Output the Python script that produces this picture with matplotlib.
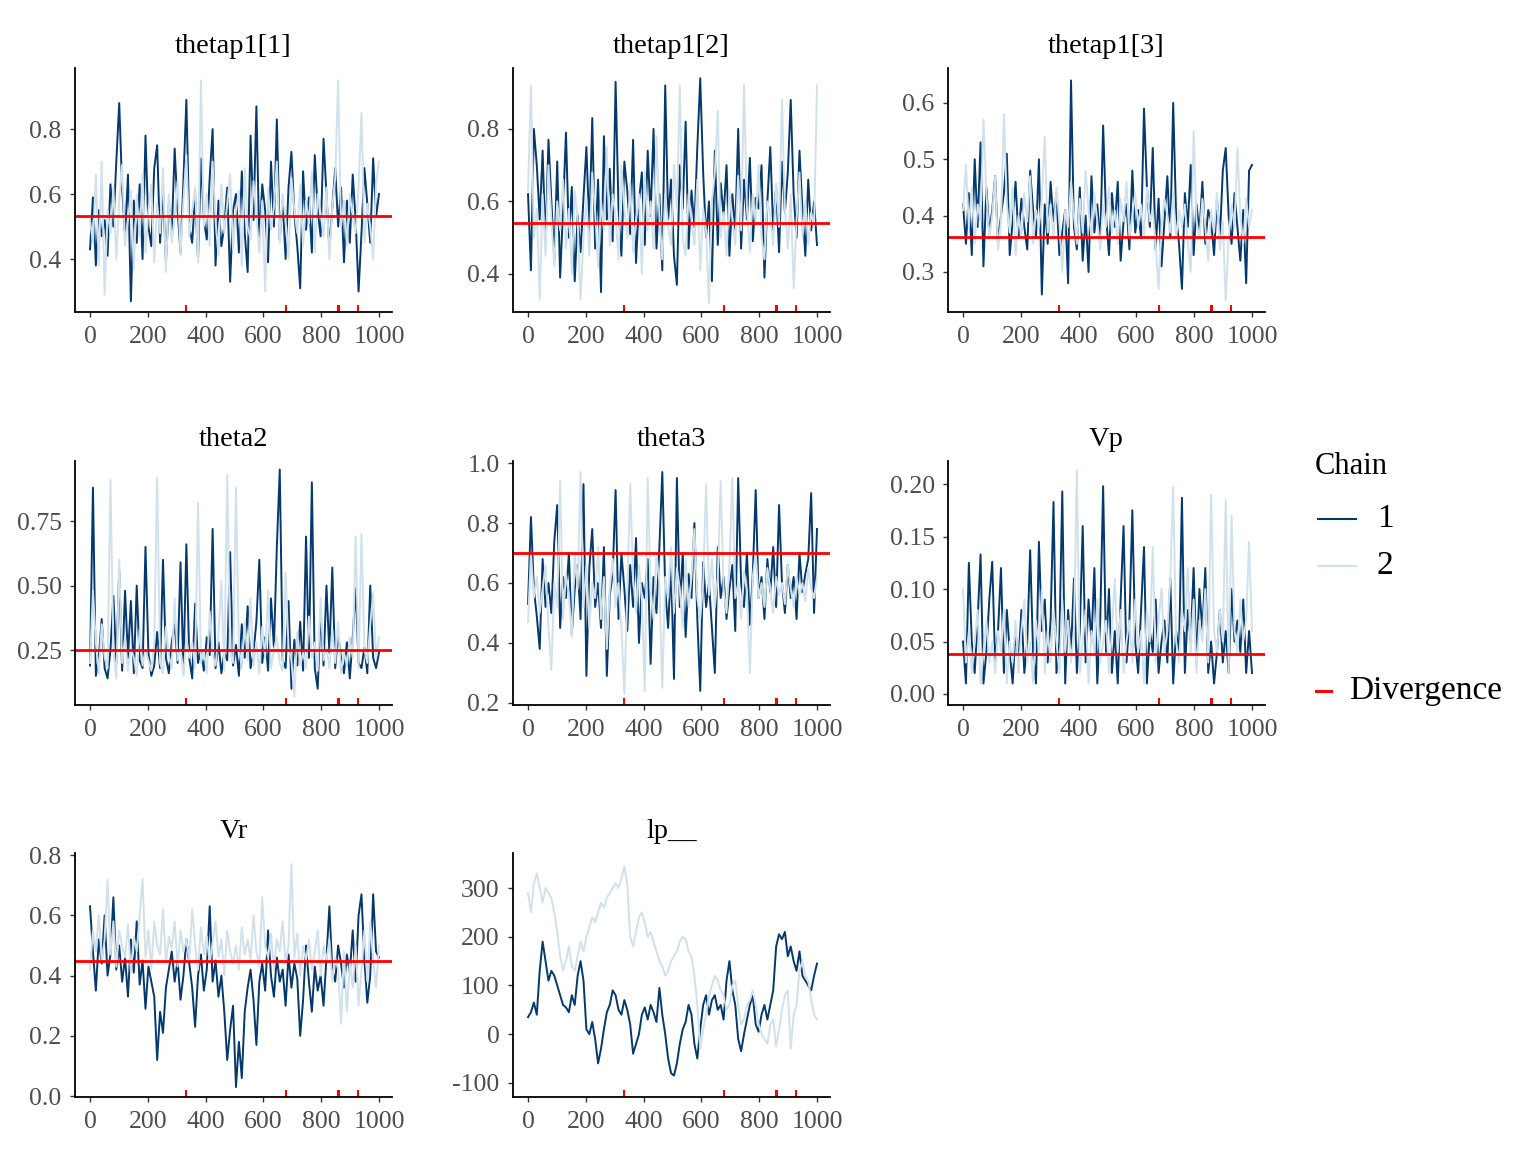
import numpy as np
import matplotlib
matplotlib.use("Agg")
import matplotlib.pyplot as plt
from matplotlib.lines import Line2D
from matplotlib.ticker import FixedLocator, FixedFormatter

plt.rcParams["font.family"] = ["Liberation Serif", "DejaVu Serif"]
plt.rcParams["axes.unicode_minus"] = False

# ---- data (estimated from the reference trace plot) ----
params = ["thetap1[1]", "thetap1[2]", "thetap1[3]", "theta2", "theta3", "Vp", "Vr", "lp__"]

thetap1_1_c1 = [0.43,0.59,0.38,0.55,0.47,0.52,0.41,0.63,0.50,0.70,0.88,0.62,0.47,0.66,0.27,0.58,0.45,0.63,0.40,0.78,
                0.50,0.44,0.68,0.75,0.45,0.62,0.39,0.57,0.48,0.74,0.55,0.42,0.64,0.89,0.50,0.45,0.60,0.40,0.71,0.52,
                0.46,0.65,0.80,0.38,0.58,0.44,0.50,0.62,0.33,0.55,0.60,0.42,0.67,0.48,0.36,0.78,0.52,0.87,0.45,0.63,
                0.55,0.39,0.70,0.50,0.83,0.46,0.58,0.40,0.62,0.73,0.54,0.44,0.31,0.67,0.49,0.59,0.42,0.72,0.55,0.47,
                0.77,0.60,0.43,0.56,0.68,0.50,0.62,0.39,0.58,0.45,0.66,0.52,0.30,0.48,0.68,0.57,0.45,0.71,0.53,0.60]
thetap1_1_c2 = [0.52,0.45,0.66,0.38,0.70,0.29,0.55,0.48,0.62,0.40,0.58,0.69,0.44,0.52,0.61,0.37,0.60,0.47,0.66,0.42,
                0.55,0.63,0.39,0.57,0.48,0.68,0.36,0.60,0.45,0.53,0.64,0.41,0.58,0.72,0.47,0.55,0.62,0.39,0.95,0.50,
                0.60,0.44,0.70,0.52,0.41,0.63,0.48,0.57,0.66,0.43,0.55,0.61,0.38,0.68,0.50,0.46,0.64,0.53,0.42,0.58,
                0.30,0.62,0.49,0.56,0.70,0.45,0.60,0.52,0.40,0.65,0.55,0.48,0.63,0.44,0.58,0.51,0.67,0.42,0.60,0.54,
                0.47,0.62,0.40,0.56,0.65,0.95,0.50,0.58,0.44,0.60,0.53,0.48,0.62,0.85,0.45,0.57,0.50,0.40,0.63,0.70]

thetap1_2_c1 = [0.62,0.41,0.80,0.70,0.55,0.74,0.48,0.77,0.60,0.44,0.71,0.39,0.58,0.79,0.50,0.64,0.38,0.56,0.46,0.61,
                0.75,0.52,0.83,0.47,0.66,0.35,0.78,0.55,0.69,0.49,0.93,0.58,0.45,0.71,0.63,0.51,0.77,0.43,0.60,0.68,
                0.48,0.74,0.56,0.80,0.47,0.62,0.41,0.92,0.55,0.66,0.45,0.37,0.70,0.58,0.82,0.47,0.63,0.53,0.75,0.94,
                0.68,0.50,0.60,0.38,0.74,0.48,0.65,0.56,0.70,0.45,0.62,0.52,0.80,0.47,0.66,0.55,0.72,0.49,0.61,0.58,
                0.70,0.39,0.60,0.75,0.52,0.64,0.46,0.71,0.57,0.68,0.88,0.62,0.50,0.74,0.58,0.45,0.66,0.52,0.60,0.48]
thetap1_2_c2 = [0.63,0.92,0.50,0.58,0.33,0.62,0.45,0.70,0.55,0.42,0.60,0.52,0.66,0.47,0.58,0.40,0.63,0.55,0.33,0.50,
                0.61,0.45,0.68,0.57,0.42,0.60,0.52,0.75,0.48,0.62,0.56,0.44,0.70,0.58,0.50,0.65,0.46,0.55,0.62,0.40,
                0.68,0.52,0.60,0.47,0.78,0.56,0.44,0.62,0.53,0.48,0.70,0.58,0.92,0.50,0.45,0.62,0.55,0.48,0.66,0.41,
                0.58,0.52,0.32,0.60,0.68,0.85,0.50,0.57,0.45,0.63,0.55,0.48,0.67,0.52,0.92,0.58,0.46,0.62,0.54,0.70,
                0.50,0.44,0.60,0.56,0.48,0.65,0.53,0.88,0.58,0.47,0.62,0.36,0.55,0.68,0.50,0.60,0.48,0.57,0.53,0.92]

thetap1_3_c1 = [0.42,0.35,0.44,0.33,0.50,0.38,0.53,0.31,0.45,0.37,0.41,0.47,0.35,0.40,0.44,0.51,0.33,0.39,0.46,0.36,
                0.43,0.38,0.34,0.48,0.41,0.36,0.50,0.26,0.42,0.35,0.46,0.39,0.44,0.33,0.37,0.41,0.28,0.64,0.38,0.34,
                0.45,0.32,0.40,0.30,0.47,0.37,0.42,0.35,0.56,0.40,0.33,0.44,0.38,0.46,0.32,0.39,0.42,0.34,0.48,0.37,
                0.41,0.36,0.59,0.45,0.38,0.52,0.34,0.43,0.31,0.39,0.47,0.36,0.60,0.40,0.35,0.27,0.44,0.38,0.49,0.33,
                0.42,0.37,0.46,0.35,0.41,0.39,0.33,0.43,0.36,0.48,0.52,0.40,0.35,0.44,0.38,0.32,0.41,0.28,0.48,0.49]
thetap1_3_c2 = [0.41,0.49,0.38,0.45,0.35,0.42,0.39,0.57,0.44,0.36,0.40,0.47,0.34,0.39,0.58,0.42,0.37,0.45,0.33,0.40,
                0.36,0.44,0.39,0.47,0.35,0.41,0.38,0.43,0.54,0.37,0.42,0.36,0.45,0.39,0.30,0.41,0.38,0.46,0.40,0.35,
                0.43,0.37,0.48,0.41,0.36,0.44,0.39,0.34,0.42,0.38,0.45,0.37,0.41,0.35,0.43,0.39,0.46,0.36,0.40,0.44,
                0.38,0.42,0.36,0.45,0.39,0.41,0.35,0.27,0.38,0.43,0.40,0.37,0.44,0.36,0.41,0.38,0.42,0.35,0.30,0.55,
                0.39,0.36,0.43,0.38,0.32,0.41,0.37,0.44,0.34,0.39,0.25,0.36,0.42,0.38,0.52,0.40,0.35,0.43,0.38,0.41]

theta2_c1 = [0.19,0.88,0.15,0.22,0.37,0.18,0.14,0.25,0.46,0.20,0.56,0.17,0.48,0.22,0.44,0.16,0.50,0.21,0.18,0.65,
             0.24,0.15,0.19,0.32,0.18,0.60,0.22,0.16,0.28,0.35,0.20,0.59,0.17,0.66,0.22,0.14,0.43,0.20,0.25,0.17,
             0.30,0.23,0.72,0.18,0.28,0.16,0.24,0.21,0.63,0.19,0.27,0.15,0.35,0.22,0.42,0.18,0.24,0.36,0.60,0.20,
             0.30,0.17,0.45,0.26,0.65,0.95,0.21,0.18,0.44,0.10,0.29,0.19,0.36,0.17,0.69,0.22,0.90,0.18,0.10,0.40,
             0.19,0.50,0.24,0.57,0.18,0.31,0.22,0.16,0.28,0.14,0.30,0.49,0.20,0.18,0.26,0.16,0.50,0.22,0.18,0.24]
theta2_c2 = [0.20,0.48,0.28,0.16,0.35,0.22,0.18,0.91,0.25,0.14,0.60,0.20,0.30,0.17,0.26,0.22,0.15,0.33,0.19,0.25,
             0.21,0.17,0.28,0.92,0.20,0.16,0.34,0.23,0.18,0.45,0.21,0.26,0.15,0.30,0.22,0.28,0.18,0.82,0.20,0.25,
             0.16,0.40,0.23,0.19,0.31,0.52,0.17,0.93,0.24,0.20,0.88,0.26,0.18,0.36,0.21,0.45,0.19,0.28,0.16,0.34,
             0.22,0.48,0.18,0.25,0.30,0.20,0.17,0.55,0.26,0.21,0.07,0.32,0.19,0.24,0.18,0.38,0.22,0.28,0.17,0.45,
             0.21,0.26,0.18,0.33,0.20,0.36,0.16,0.24,0.19,0.30,0.22,0.69,0.18,0.70,0.25,0.20,0.35,0.47,0.22,0.30]

theta3_c1 = [0.53,0.82,0.58,0.49,0.38,0.68,0.52,0.60,0.50,0.74,0.86,0.45,0.62,0.55,0.70,0.43,0.58,0.66,0.48,0.93,
             0.29,0.65,0.78,0.52,0.60,0.45,0.72,0.29,0.56,0.63,0.91,0.48,0.70,0.58,0.44,0.66,0.52,0.75,0.40,0.60,
             0.55,0.68,0.33,0.62,0.50,0.72,0.97,0.58,0.45,0.66,0.28,0.95,0.52,0.70,0.42,0.63,0.55,0.80,0.48,0.24,
             0.67,0.52,0.60,0.45,0.30,0.72,0.55,0.62,0.48,0.58,0.66,0.44,0.95,0.60,0.52,0.70,0.46,0.63,0.91,0.55,
             0.62,0.48,0.68,0.57,0.72,0.52,0.86,0.60,0.50,0.66,0.55,0.62,0.48,0.70,0.57,0.63,0.68,0.90,0.50,0.78]
theta3_c2 = [0.47,0.70,0.55,0.62,0.50,0.58,0.66,0.45,0.31,0.60,0.52,0.94,0.48,0.63,0.56,0.42,0.70,0.58,0.97,0.52,
             0.66,0.45,0.60,0.55,0.72,0.48,0.62,0.38,0.58,0.68,0.52,0.60,0.45,0.23,0.57,0.93,0.62,0.50,0.66,0.55,
             0.24,0.95,0.58,0.48,0.70,0.60,0.25,0.62,0.55,0.72,0.50,0.65,0.58,0.45,0.68,0.52,0.62,0.78,0.55,0.48,
             0.60,0.93,0.56,0.68,0.52,0.62,0.94,0.58,0.50,0.66,0.95,0.55,0.60,0.48,0.64,0.57,0.30,0.62,0.70,0.55,
             0.60,0.52,0.65,0.58,0.50,0.62,0.56,0.60,0.53,0.66,0.58,0.52,0.62,0.56,0.60,0.54,0.65,0.58,0.55,0.62]

vp_c1 = [0.05,0.01,0.125,0.05,0.02,0.07,0.133,0.01,0.04,0.09,0.126,0.03,0.06,0.12,0.02,0.08,0.04,0.01,0.06,0.03,
         0.08,0.02,0.05,0.137,0.04,0.01,0.145,0.06,0.09,0.03,0.07,0.183,0.02,0.05,0.193,0.01,0.08,0.04,0.11,0.02,
         0.06,0.16,0.03,0.09,0.05,0.12,0.01,0.07,0.198,0.04,0.10,0.02,0.06,0.01,0.09,0.16,0.03,0.07,0.175,0.05,
         0.02,0.08,0.14,0.01,0.06,0.04,0.09,0.02,0.05,0.07,0.03,0.11,0.01,0.06,0.04,0.187,0.02,0.08,0.05,0.12,
         0.03,0.10,0.06,0.12,0.02,0.05,0.01,0.04,0.08,0.03,0.06,0.02,0.10,0.05,0.07,0.04,0.09,0.02,0.06,0.02]
vp_c2 = [0.10,0.03,0.06,0.02,0.05,0.08,0.01,0.04,0.07,0.03,0.05,0.02,0.06,0.04,0.08,0.01,0.05,0.03,0.07,0.02,
         0.06,0.09,0.03,0.05,0.01,0.07,0.04,0.10,0.02,0.06,0.03,0.08,0.05,0.02,0.09,0.04,0.07,0.03,0.06,0.213,
         0.02,0.05,0.08,0.01,0.06,0.04,0.09,0.03,0.05,0.07,0.02,0.06,0.11,0.04,0.08,0.02,0.05,0.07,0.03,0.09,
         0.04,0.06,0.01,0.08,0.05,0.14,0.03,0.07,0.10,0.04,0.06,0.11,0.197,0.05,0.03,0.08,0.06,0.12,0.04,0.09,
         0.02,0.07,0.05,0.10,0.03,0.19,0.06,0.04,0.08,0.05,0.185,0.02,0.17,0.06,0.04,0.09,0.05,0.07,0.145,0.06]

vr_c1 = [0.63,0.48,0.35,0.52,0.44,0.60,0.40,0.47,0.66,0.42,0.50,0.38,0.46,0.33,0.52,0.41,0.58,0.37,0.45,0.29,
         0.43,0.38,0.33,0.12,0.28,0.21,0.36,0.42,0.48,0.38,0.45,0.32,0.40,0.52,0.44,0.36,0.23,0.40,0.47,0.35,
         0.42,0.63,0.38,0.45,0.33,0.40,0.28,0.12,0.22,0.30,0.03,0.18,0.06,0.28,0.36,0.42,0.32,0.17,0.38,0.44,
         0.35,0.55,0.40,0.33,0.46,0.38,0.42,0.30,0.47,0.36,0.44,0.39,0.20,0.32,0.50,0.38,0.28,0.43,0.35,0.40,
         0.30,0.46,0.63,0.42,0.38,0.50,0.44,0.36,0.47,0.41,0.55,0.38,0.60,0.67,0.45,0.31,0.40,0.67,0.48,0.46]
vr_c2 = [0.42,0.55,0.48,0.60,0.45,0.52,0.72,0.47,0.58,0.43,0.55,0.50,0.46,0.57,0.41,0.53,0.48,0.60,0.72,0.46,
         0.55,0.42,0.58,0.50,0.47,0.62,0.44,0.53,0.49,0.58,0.43,0.55,0.48,0.52,0.45,0.62,0.50,0.42,0.56,0.47,
         0.53,0.44,0.51,0.58,0.46,0.52,0.40,0.55,0.48,0.44,0.50,0.42,0.56,0.47,0.52,0.45,0.60,0.48,0.43,0.66,
         0.50,0.46,0.54,0.42,0.52,0.48,0.58,0.44,0.50,0.77,0.46,0.54,0.40,0.50,0.45,0.52,0.42,0.48,0.55,0.40,
         0.50,0.45,0.52,0.38,0.46,0.42,0.24,0.48,0.28,0.44,0.36,0.50,0.30,0.42,0.55,0.38,0.58,0.45,0.36,0.50]

lp_c1 = [35,45,65,40,130,190,150,110,130,120,100,80,60,55,45,80,60,120,150,110,
         10,0,25,-10,-60,-30,10,45,60,90,80,50,40,70,50,20,-40,-20,0,40,
         55,30,60,45,25,95,40,0,-50,-80,-85,-60,-20,10,25,60,40,-20,-50,10,
         60,80,40,70,80,50,60,30,110,150,90,60,-10,-35,0,30,60,80,20,5,
         40,60,30,60,90,180,205,195,210,160,180,150,130,170,120,110,100,90,120,145]
lp_c2 = [290,250,310,330,300,270,300,290,280,250,210,160,130,150,180,140,130,160,190,170,
         200,220,240,230,250,270,260,280,290,300,310,300,320,345,310,200,180,210,240,250,
         230,200,210,190,170,150,140,120,130,150,160,170,190,200,195,170,160,120,60,-30,
         10,40,80,100,120,110,90,80,50,60,100,110,60,20,30,60,70,90,60,20,
         0,-10,-20,20,30,-25,10,50,80,90,-30,40,60,130,150,120,110,70,40,30]

chain1 = [thetap1_1_c1, thetap1_2_c1, thetap1_3_c1, theta2_c1, theta3_c1, vp_c1, vr_c1, lp_c1]
chain2 = [thetap1_1_c2, thetap1_2_c2, thetap1_3_c2, theta2_c2, theta3_c2, vp_c2, vr_c2, lp_c2]
ref_lines = [0.532, 0.541, 0.362, 0.25, 0.70, 0.038, 0.45, None]
divergences = [332, 678, 857, 862, 926]

ticks = [[0.4, 0.6, 0.8], [0.4, 0.6, 0.8], [0.3, 0.4, 0.5, 0.6], [0.25, 0.50, 0.75],
         [0.2, 0.4, 0.6, 0.8, 1.0], [0.0, 0.05, 0.10, 0.15, 0.20], [0.0, 0.2, 0.4, 0.6, 0.8],
         [-100, 0, 100, 200, 300]]
tick_labels = [["0.4", "0.6", "0.8"], ["0.4", "0.6", "0.8"], ["0.3", "0.4", "0.5", "0.6"],
               ["0.25", "0.50", "0.75"], ["0.2", "0.4", "0.6", "0.8", "1.0"],
               ["0.00", "0.05", "0.10", "0.15", "0.20"], ["0.0", "0.2", "0.4", "0.6", "0.8"],
               ["-100", "0", "100", "200", "300"]]
ylims = [(0.237, 0.988), (0.295, 0.968), (0.229, 0.662), (0.037, 0.983),
         (0.193, 1.007), (-0.0105, 0.222), (-0.003, 0.807), (-129, 372)]

dark = "#03396c"
light = "#d1e1ec"
W, H = 1536, 1152
fig = plt.figure(figsize=(W / 100, H / 100), dpi=100)

col_left = [75, 513, 948]
row_top = [68, 461, 853]
ax_w, ax_h = 317, 244

for k, name in enumerate(params):
    r, c = divmod(k, 3)
    ax = fig.add_axes([col_left[c] / W, 1 - (row_top[r] + ax_h) / H, ax_w / W, ax_h / H])
    iters = np.linspace(0, 1000, len(chain1[k]))
    ax.plot(iters, chain1[k], color=dark, lw=1.4)
    ax.plot(iters, chain2[k], color=light, lw=1.4)
    if ref_lines[k] is not None:
        ax.axhline(ref_lines[k], color="red", lw=2.0)
    ax.vlines(divergences, 0, 0.03, color="red", lw=1.5, transform=ax.get_xaxis_transform())
    ax.set_xlim(-52, 1045)
    ax.set_ylim(*ylims[k])
    ax.set_xticks([0, 200, 400, 600, 800, 1000])
    ax.yaxis.set_major_locator(FixedLocator(ticks[k]))
    ax.yaxis.set_major_formatter(FixedFormatter(tick_labels[k]))
    for s in ["top", "right"]:
        ax.spines[s].set_visible(False)
    for s in ["left", "bottom"]:
        ax.spines[s].set_linewidth(1.3)
    ax.tick_params(labelsize=18.5, labelcolor="#4d4d4d", color="#333333", length=3.6, width=1.0)
    ax.tick_params(axis="x", pad=6.5)
    ax.tick_params(axis="y", pad=6.0)
    ax.set_title(name, fontsize=20.5, pad=11)

# legend drawn by hand
fig.text(1315 / W, 1 - 467 / H, "Chain", fontsize=22, va="center", ha="left")
for y, col, lab in [(519, dark, "1"), (566, light, "2")]:
    fig.add_artist(Line2D([1318 / W, 1356 / W], [1 - y / H, 1 - y / H], color=col, lw=1.5))
    fig.text(1377 / W, 1 - y / H, lab, fontsize=24, va="center", ha="left")
fig.add_artist(Line2D([1316 / W, 1331 / W], [1 - 691 / H, 1 - 691 / H], color="red", lw=2.2))
fig.text(1349 / W, 1 - 691 / H, "Divergence", fontsize=24, va="center", ha="left")

fig.savefig("out.png", dpi=100)
